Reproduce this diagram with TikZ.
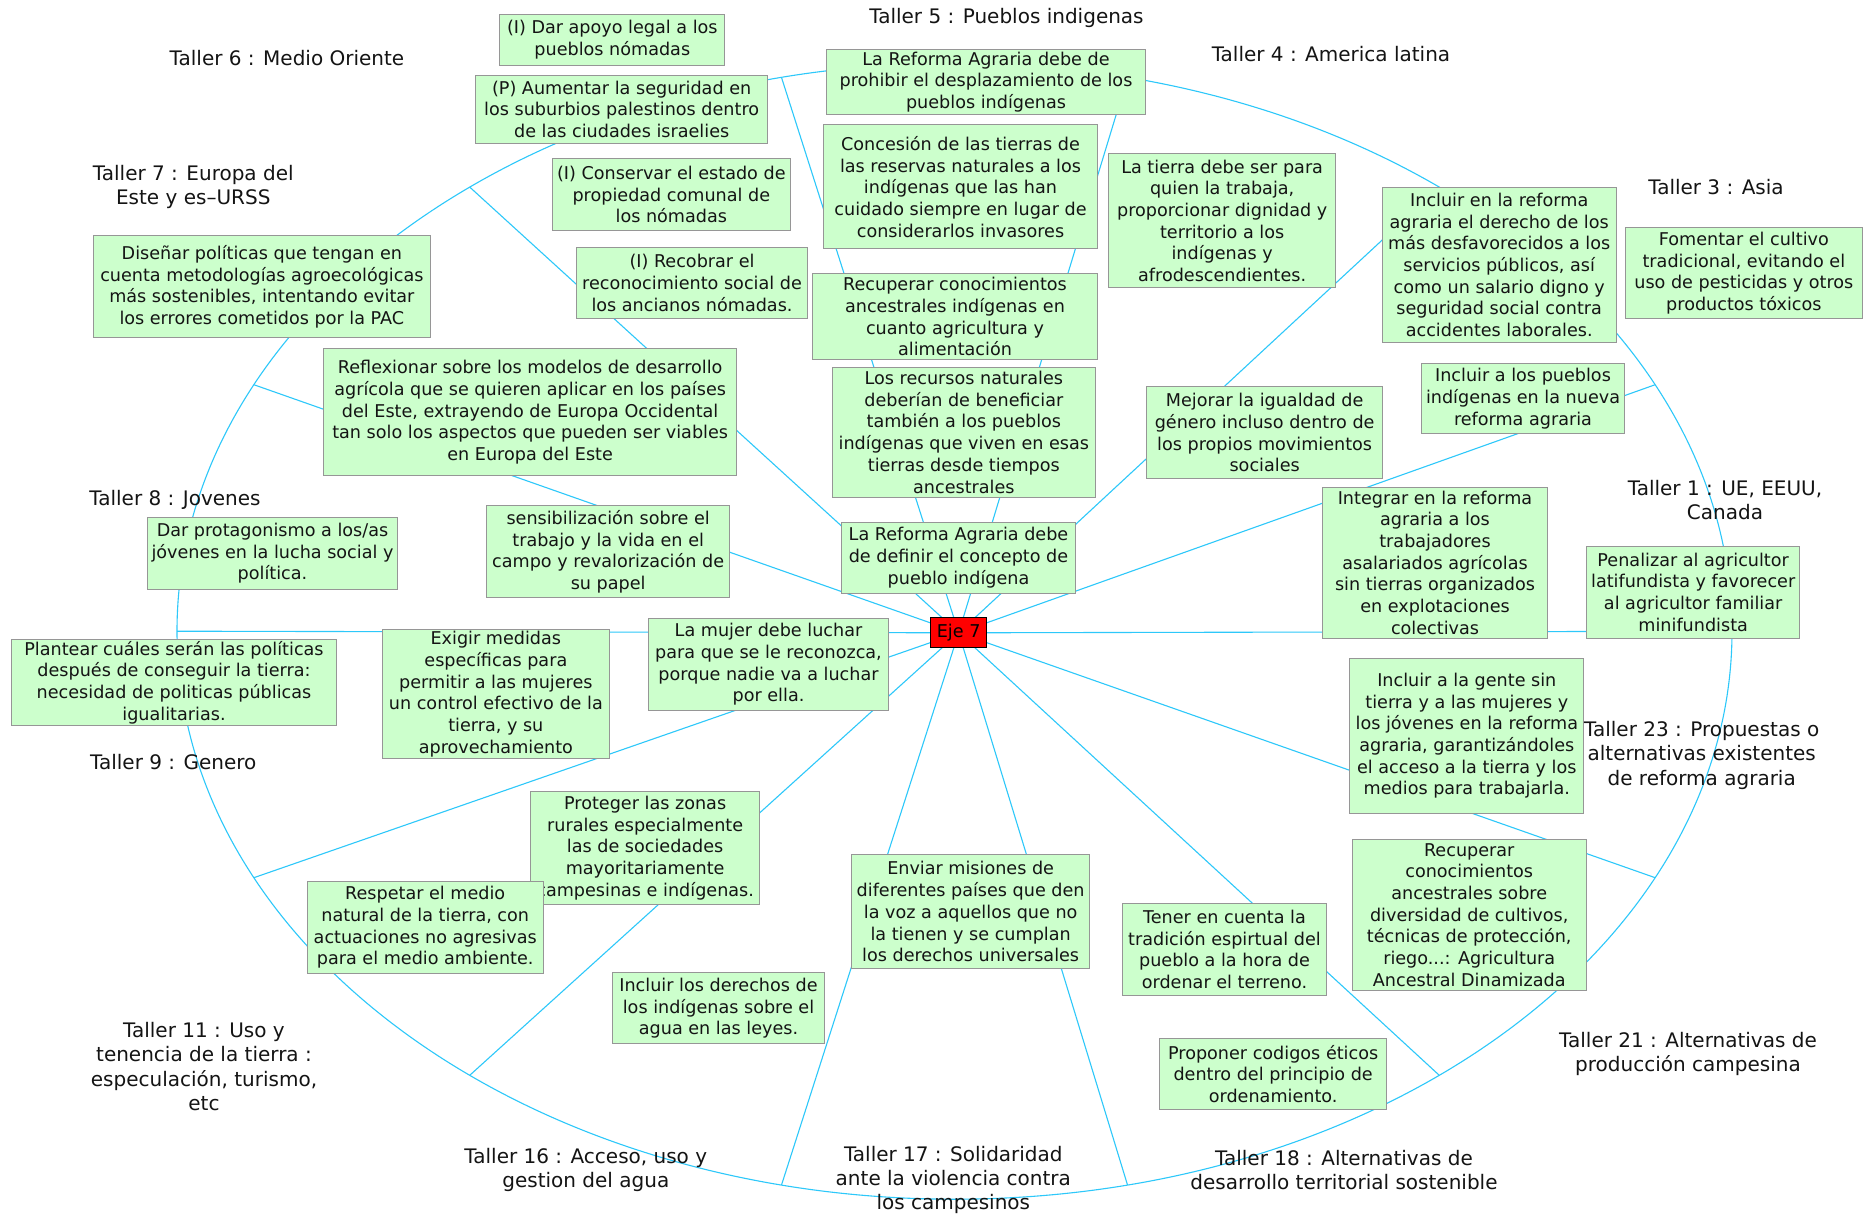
\documentclass[tikz,border=0pt]{standalone}
\usepackage{fontspec}
\setmainfont{DejaVu Sans}
\usetikzlibrary{calc}
\definecolor{boxfill}{RGB}{204,255,204}
\definecolor{boxline}{RGB}{150,150,150}
\definecolor{wirecol}{RGB}{45,200,250}
\definecolor{ink}{RGB}{20,20,20}
\newcommand\myboxfont{\fontsize{17.6}{21.7}\selectfont}
\newcommand\mytallerfont{\fontsize{20}{24.2}\selectfont}
\newcommand\propnode[6]{\node[propbox, minimum width=#4pt, minimum height=#5pt] (#1) at (#2,#3) {#6};}
\pgfdeclarelayer{paper}
\pgfdeclarelayer{wires}
\pgfsetlayers{paper,wires,main}
\begin{document}
\begin{tikzpicture}[x=1pt,y=-1pt,
  propbox/.style={draw=boxline, fill=boxfill, line width=1pt, inner sep=0pt, align=center, anchor=north west, font=\myboxfont, text=ink},
  taller/.style={align=center, font=\mytallerfont, text=ink, inner sep=0pt},
  wire/.style={draw=wirecol, line width=1.1pt}]
\useasboundingbox (0,0) rectangle (1865,1223);
\begin{pgfonlayer}{paper}
\fill[white] (0,0) rectangle (1865,1223);
\end{pgfonlayer}

% hubs on the ellipse
\coordinate (ctr) at (954.5,631.2);
\foreach \k in {0,...,13}{
  \pgfmathsetmacro\ang{180-\k*360/14}
  \coordinate (h\k) at ({954.5+777.5*cos(\ang)},{631.2-568*sin(\ang)});
}

% proposal boxes
\propnode{apoyo}{499.3}{14}{225}{50.7}{(I) Dar apoyo legal a los\\pueblos nómadas}
\propnode{aumentar}{475}{75}{292.3}{67.7}{(P) Aumentar la seguridad en\\los suburbios palestinos dentro\\de las ciudades israelies}
\propnode{conservar}{551.7}{158.3}{238.3}{71.7}{(I) Conservar el estado de\\propiedad comunal de\\los nómadas}
\propnode{recobrar}{575.7}{246.7}{231.6}{71.6}{(I) Recobrar el\\reconocimiento social de\\los ancianos nómadas.}
\propnode{prohibir}{826}{49}{319}{64.7}{La Reforma Agraria debe de\\prohibir el desplazamiento de los\\pueblos indígenas}
\propnode{concesion}{823.3}{124.3}{273.4}{124}{Concesión de las tierras de\\las reservas naturales a los\\indígenas que las han\\cuidado siempre en lugar de\\considerarlos invasores}
\propnode{recupind}{812.3}{273.3}{284.4}{86}{Recuperar conocimientos\\ancestrales indígenas en\\cuanto agricultura y\\alimentación}
\propnode{recursos}{831.7}{366.7}{263.3}{130}{Los recursos naturales\\deberían de beneficiar\\también a los pueblos\\indígenas que viven en esas\\tierras desde tiempos\\ancestrales}
\propnode{tierra}{1108.3}{153.3}{226.7}{134}{La tierra debe ser para\\quien la trabaja,\\proporcionar dignidad y\\territorio a los\\indígenas y\\afrodescendientes.}
\propnode{inclref}{1381.7}{187.3}{234}{154.4}{Incluir en la reforma\\agraria el derecho de los\\más desfavorecidos a los\\servicios públicos, así\\como un salario digno y\\seguridad social contra\\accidentes laborales.}
\propnode{fomentar}{1625}{226.7}{236.7}{91.6}{Fomentar el cultivo\\tradicional, evitando el\\uso de pesticidas y otros\\productos tóxicos}
\propnode{inclpue}{1420.7}{362.7}{203.6}{70.6}{Incluir a los pueblos\\indígenas en la nueva\\reforma agraria}
\propnode{mejorar}{1146}{386}{236.3}{92.3}{Mejorar la igualdad de\\género incluso dentro de\\los propios movimientos\\sociales}
\propnode{integrar}{1322.3}{486.7}{224.4}{151}{Integrar en la reforma\\agraria a los\\trabajadores\\asalariados agrícolas\\sin tierras organizados\\en explotaciones\\colectivas}
\propnode{penalizar}{1586}{545.7}{213.3}{92}{Penalizar al agricultor\\latifundista y favorecer\\al agricultor familiar\\minifundista}
\propnode{inclgente}{1349.3}{657.7}{234}{155}{Incluir a la gente sin\\tierra y a las mujeres y\\los jóvenes en la reforma\\agraria, garantizándoles\\el acceso a la tierra y los\\medios para trabajarla.}
\propnode{recupanc}{1351.7}{838.7}{234}{151.3}{Recuperar\\conocimientos\\ancestrales sobre\\diversidad de cultivos,\\técnicas de protección,\\riego...: Agricultura\\Ancestral Dinamizada}
\propnode{tener}{1122.3}{902.7}{203.4}{92.3}{Tener en cuenta la\\tradición espirtual del\\pueblo a la hora de\\ordenar el terreno.}
\propnode{proponer}{1159.3}{1037.7}{226.7}{71.3}{Proponer codigos éticos\\dentro del principio de\\ordenamiento.}
\propnode{enviar}{851}{854.3}{238.3}{114}{Enviar misiones de\\diferentes países que den\\la voz a aquellos que no\\la tienen y se cumplan\\los derechos universales}
\propnode{derechos}{611.7}{972.3}{212.6}{71}{Incluir los derechos de\\los indígenas sobre el\\agua en las leyes.}
\propnode{proteger}{530}{790.7}{229.3}{113.6}{Proteger las zonas\\rurales especialmente\\las de sociedades\\mayoritariamente\\campesinas e indígenas.}
\propnode{respetar}{306.7}{880.7}{236}{92.6}{Respetar el medio\\natural de la tierra, con\\actuaciones no agresivas\\para el medio ambiente.}
\propnode{exigir}{381.7}{628.7}{227.3}{129.6}{Exigir medidas\\específicas para\\permitir a las mujeres\\un control efectivo de la\\tierra, y su\\aprovechamiento}
\propnode{mujer}{647.7}{617.7}{240.6}{92.3}{La mujer debe luchar\\para que se le reconozca,\\porque nadie va a luchar\\por ella.}
\propnode{sensib}{486}{505}{243.3}{92.3}{sensibilización sobre el\\trabajo y la vida en el\\campo y revalorización de\\su papel}
\propnode{definir}{841}{521.7}{234}{71}{La Reforma Agraria debe\\de definir el concepto de\\pueblo indígena}
\propnode{reflex}{323.3}{348.3}{412.7}{126.7}{Reflexionar sobre los modelos de desarrollo\\agrícola que se quieren aplicar en los países\\del Este, extrayendo de Europa Occidental\\tan solo los aspectos que pueden ser viables\\en Europa del Este}
\propnode{disenar}{93}{235.3}{336.7}{102}{Diseñar políticas que tengan en\\cuenta metodologías agroecológicas\\más sostenibles, intentando evitar\\los errores cometidos por la PAC}
\propnode{dar}{146.7}{517}{250.6}{71.7}{Dar protagonismo a los/as\\jóvenes en la lucha social y\\política.}
\propnode{plantear}{10.7}{638.7}{325.6}{86.3}{Plantear cuáles serán las políticas\\después de conseguir la tierra:\\necesidad de politicas públicas\\igualitarias.}

% centre
\node[draw=black, fill=red, line width=1pt, inner sep=0pt, anchor=north west,
      minimum width=55.7pt, minimum height=30pt, font=\myboxfont, text=black] (eje) at (930.3,617.3) {Eje 7};

% workshop labels
\node[taller] (t6) at (287,58.3) {Taller 6 : Medio Oriente};
\node[taller] (t5) at (1006.5,18.3) {Taller 5 : Pueblos indigenas};
\node[taller] (t4) at (1331,54.3) {Taller 4 : America latina};
\node[taller] (t3) at (1716,186.7) {Taller 3 : Asia};
\node[taller] (t1) at (1725,500) {Taller 1 : UE, EEUU,\\Canada};
\node[taller] (t23) at (1701.7,755.3) {Taller 23 : Propuestas o\\alternativas existentes\\de reforma agraria};
\node[taller] (t21) at (1688,1053.8) {Taller 21 : Alternativas de\\producción campesina};
\node[taller] (t18) at (1344,1169.8) {Taller 18 : Alternativas de\\desarrollo territorial sostenible};
\node[taller] (t17) at (953.3,1180) {Taller 17 : Solidaridad\\ante la violencia contra\\los campesinos};
\node[taller] (t16) at (585.8,1170) {Taller 16 : Acceso, uso y\\gestion del agua};
\node[taller] (t11) at (204,1066.5) {Taller 11 : Uso y\\tenencia de la tierra :\\especulación, turismo,\\etc};
\node[taller] (t9) at (173.3,761.7) {Taller 9 : Genero};
\node[taller] (t8) at (175,500) {Taller 8 : Jovenes};
\node[taller] (t7) at (193.3,187) {Taller 7 : Europa del\\Este y es–URSS};

% connectors
\begin{pgfonlayer}{wires}
\draw[wire] (ctr) ellipse [x radius=777.5, y radius=568];
\foreach \k in {0,...,13}{
  \draw[wire] (eje.center) -- (h\k);
}
\end{pgfonlayer}
\end{tikzpicture}
\end{document}
